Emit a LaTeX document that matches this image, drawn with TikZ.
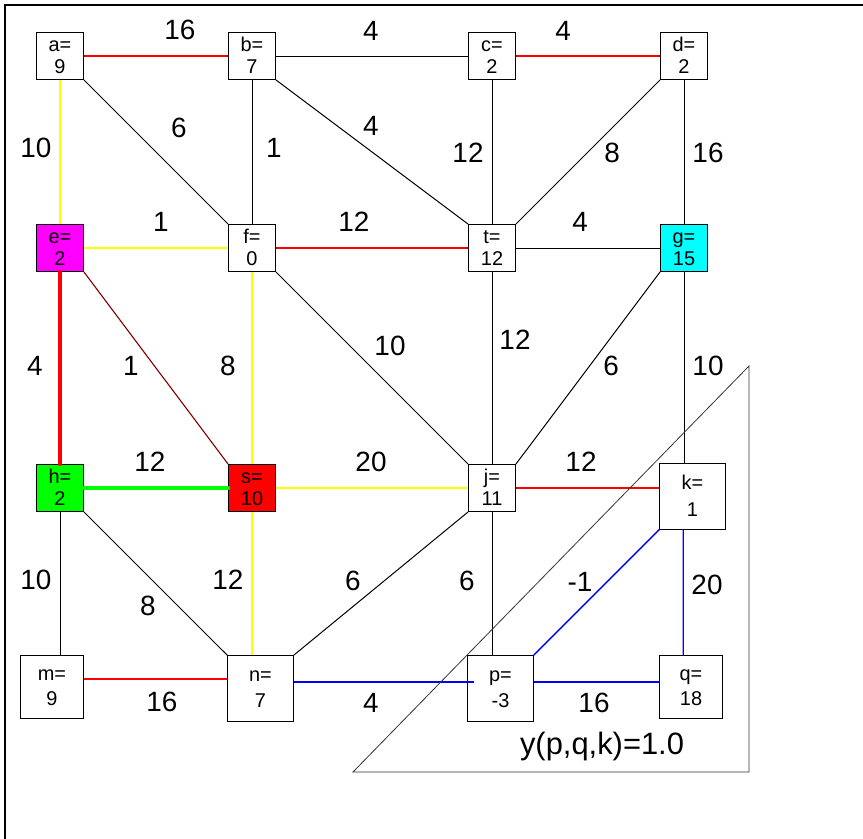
\documentclass[tikz,border=0pt]{standalone}
\usepackage{fontspec}
\setmainfont{Liberation Sans}
\definecolor{darkred}{RGB}{128,0,0}
\definecolor{pureyellow}{RGB}{255,255,0}
\definecolor{purered}{RGB}{255,0,0}
\definecolor{pureblue}{RGB}{0,0,255}
\definecolor{puregreen}{RGB}{0,255,0}
\definecolor{puremagenta}{RGB}{255,0,255}
\definecolor{purecyan}{RGB}{0,255,255}
\newcommand{\vtxt}[3][0bp]{\vphantom{b}#2=\\[#1]#3\rule[-2bp]{0pt}{2bp}}
\tikzset{
  vertex/.style={rectangle, draw, fill=white, line width=0.9bp, inner sep=0pt,
    minimum width=47bp, minimum height=47bp, align=center,
    font=\fontsize{20}{22}\selectfont},
  midbox/.style={minimum width=62.6bp, minimum height=62.6bp},
  widebox/.style={minimum width=65.6bp, minimum height=65.3bp},
  weight/.style={font=\fontsize{28}{32}\selectfont, inner sep=0pt},
  plain/.style={draw=black, line width=1bp},
  redline/.style={draw=purered, line width=1.2bp},
  yelline/.style={draw=pureyellow, line width=1.4bp},
  blueline/.style={draw=pureblue, line width=1.4bp},
  brownline/.style={draw=darkred, line width=1.1bp},
  redpath/.style={draw=purered, line width=4bp, line cap=round},
  greenpath/.style={draw=puregreen, line width=4.3bp, line cap=round}
}

\begin{document}
\begin{tikzpicture}[x=1bp, y=-1bp]
\useasboundingbox (0,0) rectangle (863,839);
\draw[line width=1.3bp] (5,839) -- (5,5) -- (863,5);

% Define vertices
\node[vertex] (a) at (60,56) {\vtxt{a}{9}};
\node[vertex] (b) at (252,56) {\vtxt{b}{7}};
\node[vertex] (c) at (492,56) {\vtxt{c}{2}};
\node[vertex] (d) at (684,56) {\vtxt{d}{2}};
\node[vertex, fill=puremagenta] (e) at (60,248) {\vtxt{e}{2}};
\node[vertex] (f) at (252,248) {\vtxt{f}{0}};
\node[vertex] (t) at (492,248) {\vtxt{t}{12}};
\node[vertex, fill=purecyan] (g) at (684,248) {\vtxt{g}{15}};
\node[vertex, fill=puregreen] (h) at (60,488) {\vtxt{h}{2}};
\node[vertex, fill=purered] (s) at (252,488) {\vtxt{s}{10}};
\node[vertex] (j) at (492,488) {\vtxt{j}{11}};
\node[vertex, widebox] (k) at (692.5,496.5) {\vtxt[4.7bp]{k}{1}};
\node[vertex, midbox] (m) at (52,687) {\vtxt[3.5bp]{m}{9}};
\node[vertex, widebox] (n) at (260.5,688.3) {\vtxt[3.5bp]{n}{7}};
\node[vertex, widebox] (p) at (500.5,688.3) {\vtxt[3.5bp]{p}{-3}};
\node[vertex, midbox] (q) at (691,687) {\vtxt[3.5bp]{q}{18}};

% Draw edges
\draw[redline] (a.east) -- (b.west);
\draw[plain] (b.east) -- (c.west);
\draw[redline] (c.east) -- (d.west);
\draw[yelline] (a.south) -- (e.north);
\draw[plain] (a.south east) -- (f.north west);
\draw[plain] (b.south) -- (f.north);
\draw[plain] (b.south east) -- (t.north west);
\draw[plain] (c.south) -- (t.north);
\draw[plain] (d.south west) -- (t.north east);
\draw[plain] (d.south) -- (g.north);
\draw[yelline] (e.east) -- (f.west);
\draw[redline] (f.east) -- (t.west);
\draw[plain] (t.east) -- (g.west);
\draw[redpath] (e.south) -- (h.north);
\draw[brownline] (e.south east) -- (s.north west);
\draw[yelline] (f.south) -- (s.north);
\draw[plain] (f.south east) -- (j.north west);
\draw[plain] (t.south) -- (j.north);
\draw[plain] (g.south west) -- (j.north east);
\draw[plain] (g.south) -- (g.south |- k.north);
\draw[greenpath] (h.east) -- (s.west);
\draw[yelline] (s.east) -- (j.west);
\draw[redline] (j.east) -- (j.east -| k.west);
\draw[plain] (h.south) -- (h.south |- m.north);
\draw[plain] (h.south east) -- (n.north west);
\draw[yelline] (s.south) -- (s.south |- n.north);
\draw[plain] (j.south west) -- (n.north east);
\draw[plain] (j.south) -- (j.south |- p.north);
\draw[blueline] (k.south west) -- (p.north east);
\draw[blueline] ([xshift=24bp]k.south west) -- ([xshift=24bp]q.north west);
\draw[redline] ([yshift=8bp]m.east) -- ([yshift=8bp]m.east -| n.west);
\draw[blueline] ([yshift=6.3bp]n.east) -- ([yshift=6.3bp, xshift=6.6bp]p.west);
\draw[blueline] ([yshift=6.3bp]p.east) -- ([yshift=6.3bp]p.east -| q.west);

% Edge weights
\node[weight] (w-ab) at (180,30) {16};
\node[weight] (w-bc) at (371,31) {4};
\node[weight] (w-cd) at (563,31) {4};
\node[weight] (w-ae) at (36,148) {10};
\node[weight] (w-af) at (179,128) {6};
\node[weight] (w-bf) at (274,148) {1};
\node[weight] (w-bt) at (371,126) {4};
\node[weight] (w-ct) at (468,153) {12};
\node[weight] (w-dt) at (612,153) {8};
\node[weight] (w-dg) at (708,153) {16};
\node[weight] (w-ef) at (161,222) {1};
\node[weight] (w-ft) at (354,222) {12};
\node[weight] (w-tg) at (580,222) {4};
\node[weight] (w-eh) at (35,366) {4};
\node[weight] (w-es) at (131,366) {1};
\node[weight] (w-fs) at (228,366) {8};
\node[weight] (w-fj) at (390,346) {10};
\node[weight] (w-tj) at (515,340) {12};
\node[weight] (w-gj) at (611,366) {6};
\node[weight] (w-gk) at (708,366) {10};
\node[weight] (w-hs) at (150,462) {12};
\node[weight] (w-sj) at (371,462) {20};
\node[weight] (w-jk) at (581,462) {12};
\node[weight] (w-hm) at (36,580) {10};
\node[weight] (w-hn) at (148,606) {8};
\node[weight] (w-sn) at (228,580) {12};
\node[weight] (w-jn) at (353,581) {6};
\node[weight] (w-jp) at (467,581) {6};
\node[weight] (w-kp) at (580,582) {-1};
\node[weight] (w-kq) at (707,585) {20};
\node[weight] (w-mn) at (162,702) {16};
\node[weight] (w-np) at (371,703) {4};
\node[weight] (w-pq) at (594,703) {16};

% Cut triangle
\draw[black!80, line width=0.8bp] (749,366) -- (749,772) -- (353,772) -- cycle;
\node[weight, font=\fontsize{31}{34}\selectfont] (cut) at (602,747) {y(p,q,k)=1.0};
\end{tikzpicture}
\end{document}
